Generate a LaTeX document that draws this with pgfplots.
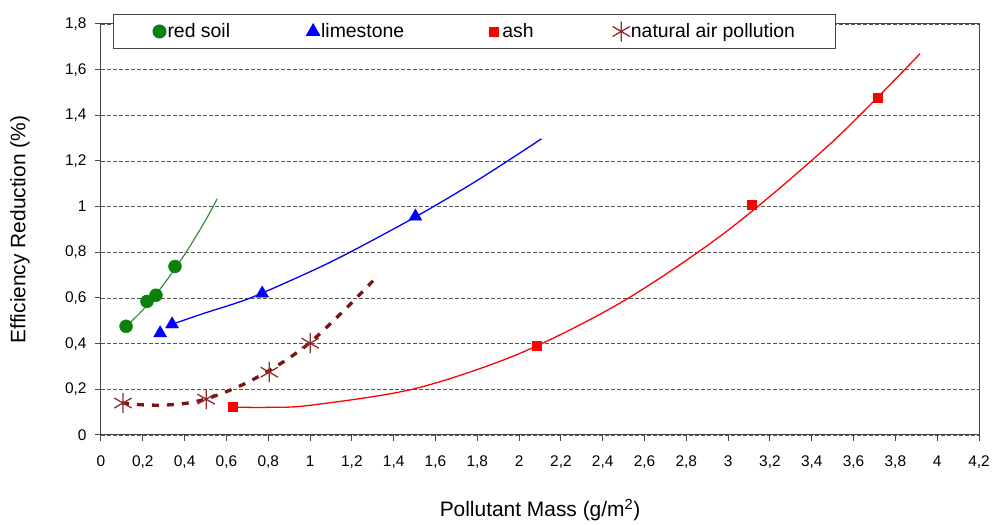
\documentclass[border=0pt]{standalone}
\usepackage{fontspec}
\setmainfont{Liberation Sans}
\usepackage{pgfplots}
\pgfplotsset{compat=1.18}
\definecolor{mygreen}{RGB}{10,130,10}
\definecolor{lgreen}{RGB}{60,140,60}
\definecolor{maroonline}{RGB}{125,20,20}
\definecolor{maroonmark}{RGB}{140,45,45}
\definecolor{axgray}{RGB}{70,70,70}
\definecolor{gridgray}{RGB}{85,85,85}
\begin{document}
\begin{tikzpicture}
\begin{axis}[
  scale only axis, width=878bp, height=411bp,
  xmin=0, xmax=4.2, ymin=0, ymax=1.8,
  xtick={0,0.2,0.4,0.6,0.8,1,1.2,1.4,1.6,1.8,2,2.2,2.4,2.6,2.8,3,3.2,3.4,3.6,3.8,4,4.2},
  ytick={0,0.2,0.4,0.6,0.8,1,1.2,1.4,1.6,1.8},
  tick align=outside, xtick pos=bottom, ytick pos=left,
  major tick length=6bp,
  axis line style={axgray, line width=1bp},
  every tick/.style={axgray, line width=1bp},
  ymajorgrids,
  grid style={gridgray, line width=0.8bp, dash pattern=on 4bp off 2bp},
  /pgf/number format/use comma,
  /pgf/number format/1000 sep={},
  /pgf/number format/assume math mode=true,
  tick label style={font=\fontsize{15.5}{18}\selectfont, color=black},
  xticklabel style={yshift=-11bp},
  yticklabel style={xshift=-5bp},
  xlabel={Pollutant Mass (g/m\textsuperscript{2})},
  ylabel={Efficiency Reduction (\%)},
  label style={font=\fontsize{21}{24}\selectfont},
  xlabel style={at={(axis description cs:0.5,-0.183)}, anchor=center},
  ylabel style={at={(axis description cs:-0.0923,0.5)}, anchor=center},
  legend style={at={(0.01367,1.0243)}, anchor=north west, draw=axgray, line width=1bp, fill=white,
    font=\fontsize{19.5}{22}\selectfont, legend columns=4, inner xsep=39bp, inner ysep=7bp,
    nodes={inner xsep=1bp, inner ysep=1bp},
    /tikz/column 2/.style={column sep=75bp},
    /tikz/column 4/.style={column sep=82bp},
    /tikz/column 6/.style={column sep=78bp}},
  legend image code/.code={\path[draw=none, fill=none] (-7bp,-6bp) rectangle (7bp,6bp); \draw[#1] plot coordinates {(0bp,0bp)};},
]
% trend lines
\addplot[lgreen, line width=1.2bp, smooth, forget plot] coordinates {
  (0.12,0.476) (0.2,0.548) (0.3,0.66) (0.4,0.79) (0.5,0.94) (0.556,1.035)};
\addplot[blue, line width=1.3bp, smooth, forget plot] coordinates {
  (0.34,0.485) (0.5,0.535) (0.714,0.6) (1.0,0.715) (1.19,0.80) (1.504,0.955) (1.8,1.115) (2.107,1.297)};
\addplot[red, line width=1.3bp, smooth, forget plot] coordinates {
  (0.632,0.122) (0.8,0.121) (1.0,0.13) (1.5,0.2025) (2.0,0.356) (2.5,0.587) (3.0,0.897) (3.5,1.285) (3.918,1.670)};
\addplot[maroonline, line width=3.3bp, dash pattern=on 7bp off 8bp, smooth, forget plot] coordinates {
  (0.1,0.14) (0.2,0.132) (0.3,0.131) (0.4,0.138) (0.5,0.157) (0.6,0.19) (0.7,0.23) (0.8,0.28) (0.9,0.337) (1.0,0.405) (1.1,0.49) (1.2,0.58) (1.303,0.677)};
% markers
\addplot[only marks, mark=*, mark size=6.5bp, mark options={draw=mygreen, fill=mygreen}] coordinates {
  (0.12,0.476) (0.22,0.585) (0.263,0.612) (0.354,0.738)};
\addlegendentry{red soil}
\addplot[only marks, mark=triangle*, mark size=7.5bp, mark options={draw=blue, fill=blue}] coordinates {
  (0.283,0.446) (0.34,0.485) (0.771,0.620) (1.504,0.957)};
\addlegendentry{limestone}
\addplot[only marks, mark=square*, mark size=4.5bp, mark options={draw=red, fill=red}] coordinates {
  (0.632,0.122) (2.083,0.389) (3.113,1.009) (3.716,1.477)};
\addlegendentry{ash}
\addplot[only marks, mark=asterisk, mark size=10bp, mark options={draw=maroonmark, line width=1.3bp}] coordinates {
  (0.105,0.14) (0.503,0.157) (0.805,0.275) (1.001,0.402)};
\addlegendentry{natural air pollution}
\end{axis}
\path ([shift={(-101bp,-88bp)}]current axis.south west) rectangle ([shift={(17bp,24bp)}]current axis.north east);
\end{tikzpicture}
\end{document}
